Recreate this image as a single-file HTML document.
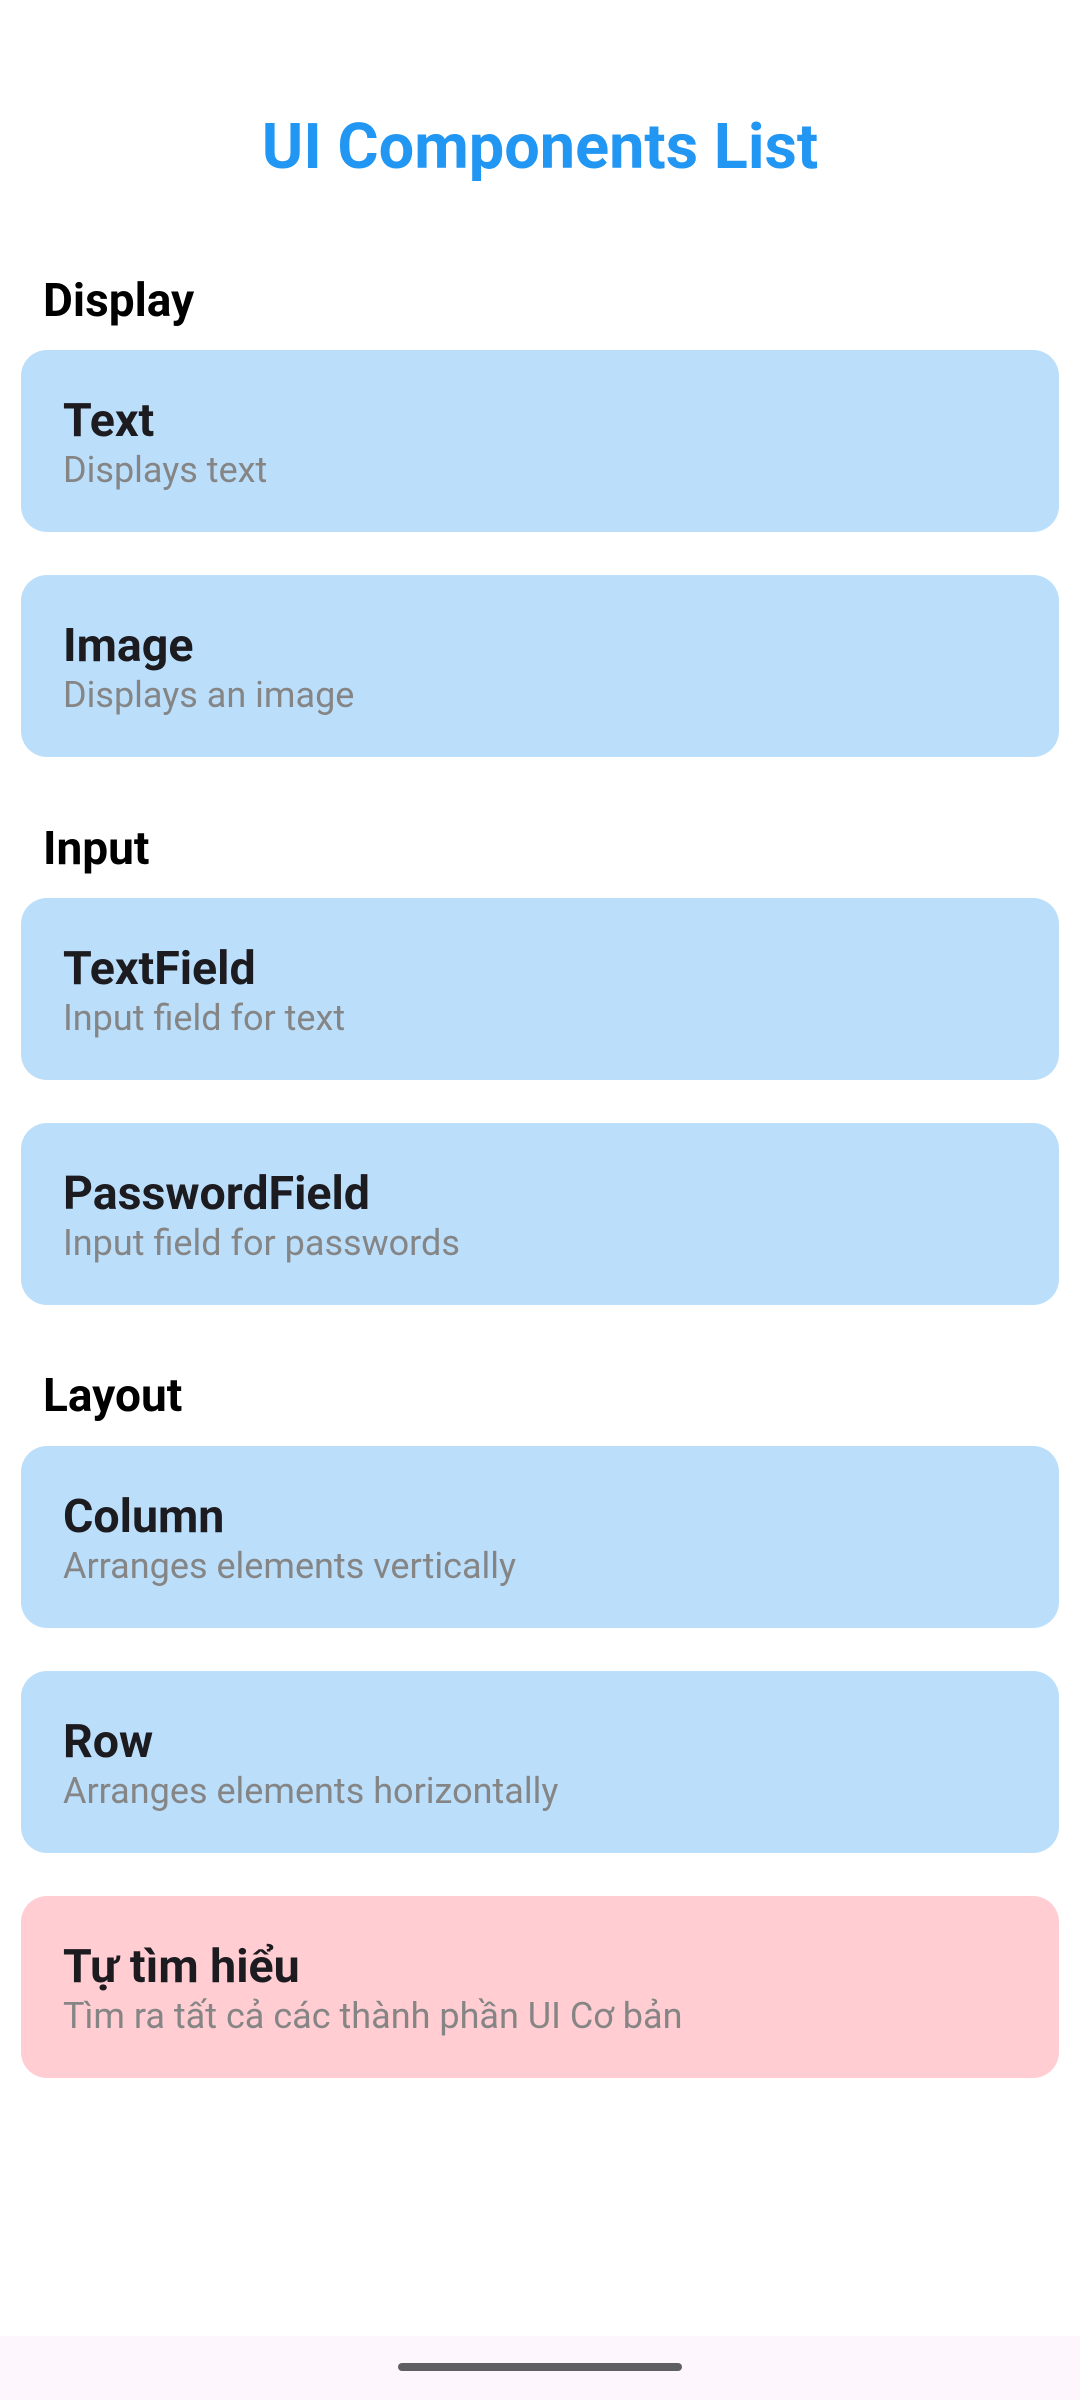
<!DOCTYPE html>
<html><head><meta charset="utf-8"><style>
body{margin:0;width:1080px;height:2400px;background:#fff;position:relative;font-family:"Roboto","Liberation Sans","Noto Sans CJK SC",sans-serif;overflow:hidden}
.t{position:absolute;left:0;width:1080px;text-align:center;top:111px;font-size:63px;font-weight:bold;color:#2196f3;line-height:74px}
.h{position:absolute;left:43px;font-size:46px;font-weight:bold;color:#000;line-height:50px}
.c{position:absolute;left:21px;width:1038px;height:182px;border-radius:26px;background:#bbdefb}
.c.p{background:#ffcdd2}
.c b{position:absolute;left:42px;top:44px;font-size:46.5px;color:#1c1b1f;line-height:54px}
.c span{position:absolute;left:42px;top:98px;font-size:36px;color:#858585;line-height:44px}
.nav{position:absolute;left:0;top:2336px;width:1080px;height:64px;background:#fdf6fd}
.hd{position:absolute;left:398px;top:2363px;width:284px;height:8px;border-radius:4px;background:#5f5f63}
</style></head><body>
<div class="t">UI Components List</div>
<div class="h" style="top:276px">Display</div>
<div class="c" style="top:350px"><b>Text</b><span>Displays text</span></div>
<div class="c" style="top:575px"><b>Image</b><span>Displays an image</span></div>
<div class="h" style="top:824px">Input</div>
<div class="c" style="top:898px"><b>TextField</b><span>Input field for text</span></div>
<div class="c" style="top:1123px"><b>PasswordField</b><span>Input field for passwords</span></div>
<div class="h" style="top:1371px">Layout</div>
<div class="c" style="top:1446px"><b>Column</b><span>Arranges elements vertically</span></div>
<div class="c" style="top:1671px"><b>Row</b><span>Arranges elements horizontally</span></div>
<div class="c p" style="top:1896px"><b>Tự tìm hiểu</b><span>Tìm ra tất cả các thành phần UI Cơ bản</span></div>
<div class="nav"></div><div class="hd"></div>
</body></html>
